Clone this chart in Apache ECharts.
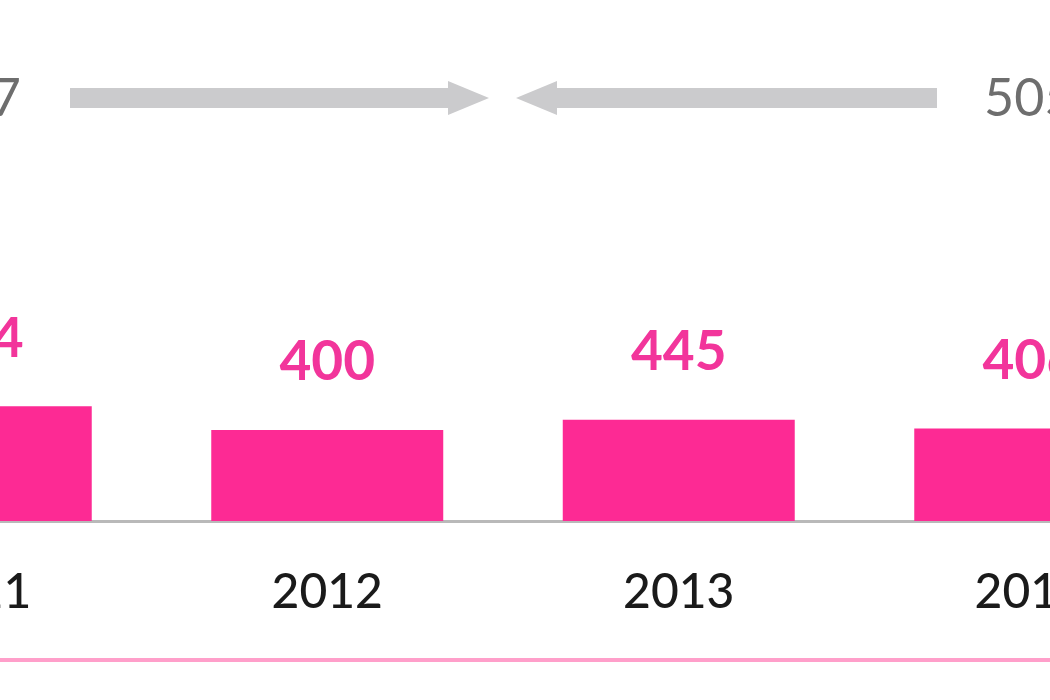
<!DOCTYPE html>
<html>
<head>
<meta charset="utf-8">
<script src="https://cdn.jsdelivr.net/npm/echarts@6/dist/echarts.min.js"></script>
<style>
  html, body { margin: 0; padding: 0; background: #fff; }
  #chart { width: 1050px; height: 700px; }
</style>
</head>
<body>
<div id="chart"></div>
<script>
// data
const years = ['2011', '2012', '2013', '2014']
const values = [504, 400, 445, 406]
const leftTotal = '347'
const rightTotal = '505'

const pink = '#fd2a94'
const grey = '#cbcbcd'

var myChart = echarts.init(document.getElementById('chart'), null, { renderer: 'canvas' })

var option = {
  animation: false,
  grid: {
    left: -200,
    width: 1406,
    top: 150,
    height: 371,
    outerBoundsMode: 'none',
    containLabel: false
  },
  xAxis: {
    type: 'category',
    data: years,
    axisLine: { lineStyle: { color: '#b9b9b9', width: 3 } },
    axisTick: { show: false },
    axisLabel: {
      color: '#1a1a1a',
      fontFamily: 'Lato',
      fontWeight: 500,
      fontSize: 48,
      margin: 48
    }
  },
  yAxis: {
    type: 'value',
    min: 0,
    max: 1630,
    show: false
  },
  series: [
    {
      type: 'bar',
      data: values,
      barCategoryGap: '34%',
      itemStyle: { color: pink },
      label: {
        show: true,
        position: 'top',
        distance: 40,
        color: '#f2359b',
        fontFamily: 'Lato',
        fontWeight: 'bold',
        fontSize: 55
      }
    }
  ],
  graphic: [
    // right arrow
    { type: 'rect', shape: { x: 70, y: 88, width: 385, height: 20 }, style: { fill: grey } },
    { type: 'polygon', shape: { points: [[448, 81], [489, 98], [448, 115]] }, style: { fill: grey } },
    // left arrow
    { type: 'rect', shape: { x: 552, y: 88, width: 385, height: 20 }, style: { fill: grey } },
    { type: 'polygon', shape: { points: [[557, 81], [516, 98], [557, 115]] }, style: { fill: grey } },
    {
      type: 'text', x: 21, y: 99,
      style: { text: leftTotal, fill: '#6e6e6e', font: '52px Lato', align: 'right', verticalAlign: 'middle' }
    },
    {
      type: 'text', x: 984, y: 99,
      style: { text: rightTotal, fill: '#6e6e6e', font: '52px Lato', align: 'left', verticalAlign: 'middle' }
    },
    // bottom pink rule
    { type: 'line', shape: { x1: 0, y1: 660, x2: 1050, y2: 660 }, style: { stroke: '#ff9fca', lineWidth: 4 } }
  ]
}

myChart.setOption(option)
window.addEventListener('resize', myChart.resize)
</script>
</body>
</html>
